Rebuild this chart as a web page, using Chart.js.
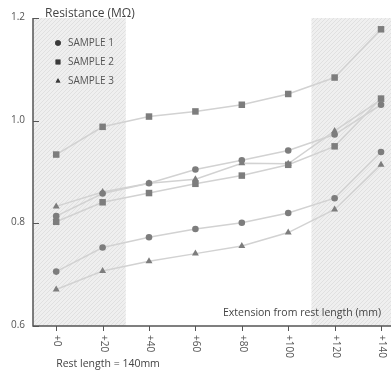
<!DOCTYPE html>
<html>
<head>
<meta charset="utf-8">
<script src="https://cdn.jsdelivr.net/npm/chart.js@4"></script>
<style>
  html, body { margin: 0; padding: 0; background: #fff; }
  #wrap { width: 391px; height: 375px; }
</style>
</head>
<body>
<div id="wrap"><canvas id="resistanceChart" width="391" height="375"></canvas></div>
<script>
var extensions = [0, 20, 40, 60, 80, 100, 120, 140];
var tickLabels = ['+0', '+20', '+40', '+60', '+80', '+100', '+120', '+140'];
var yTicks = [0.6, 0.8, 1.0, 1.2];

// two runs per sample
var sample1a = [0.814, 0.858, 0.878, 0.905, 0.923, 0.942, 0.973, 1.031];
var sample1b = [0.706, 0.753, 0.773, 0.789, 0.801, 0.820, 0.849, 0.939];
var sample2a = [0.934, 0.988, 1.008, 1.018, 1.031, 1.052, 1.084, 1.178];
var sample2b = [0.803, 0.841, 0.859, 0.877, 0.893, 0.914, 0.950, 1.043];
var sample3a = [0.833, 0.861, 0.878, 0.886, 0.917, 0.916, 0.980, 1.041];
var sample3b = [0.671, 0.707, 0.726, 0.741, 0.756, 0.782, 0.827, 0.914];

var legendNames = ['SAMPLE 1', 'SAMPLE 2', 'SAMPLE 3'];
var shadedRanges = [[-10, 30], [110, 145]];

var FONT = '"Open Sans", "Noto Sans", sans-serif';

function toPoints(values) {
    return values.map(function (v, i) { return { x: extensions[i], y: v }; });
}

function makeSet(label, values, style, radius) {
    return {
        label: label,
        data: toPoints(values),
        borderColor: '#d2d2d2',
        borderWidth: 1.5,
        pointStyle: style,
        pointRadius: radius,
        pointBackgroundColor: '#7d7d7d',
        pointBorderColor: '#7d7d7d',
        pointBorderWidth: 0,
        tension: 0
    };
}

// hatch pattern for the shaded bands
function makeHatch() {
    var c = document.createElement('canvas');
    c.width = 4; c.height = 4;
    var g = c.getContext('2d');
    g.fillStyle = '#efefef';
    g.fillRect(0, 0, 4, 4);
    g.strokeStyle = '#e0e0e0';
    g.lineWidth = 1;
    g.beginPath();
    g.moveTo(0, 4); g.lineTo(4, 0);
    g.moveTo(-1, 1); g.lineTo(1, -1);
    g.moveTo(3, 5); g.lineTo(5, 3);
    g.stroke();
    return g.createPattern(c, 'repeat');
}

var bandsPlugin = {
    id: 'bands',
    beforeDatasetsDraw: function (chart) {
        var ctx = chart.ctx, a = chart.chartArea, x = chart.scales.x;
        ctx.save();
        ctx.fillStyle = makeHatch();
        shadedRanges.forEach(function (r) {
            var x0 = Math.max(a.left, x.getPixelForValue(r[0]));
            var x1 = Math.min(a.right, x.getPixelForValue(r[1]));
            ctx.fillRect(x0, a.top, x1 - x0, a.bottom - a.top);
        });
        ctx.restore();
    }
};

var axesPlugin = {
    id: 'axesText',
    afterDraw: function (chart) {
        var ctx = chart.ctx, a = chart.chartArea;
        var xs = chart.scales.x, ys = chart.scales.y;
        ctx.save();
        ctx.strokeStyle = '#555';
        ctx.lineWidth = 1.5;
        // axis lines
        ctx.beginPath();
        ctx.moveTo(a.left, a.top);
        ctx.lineTo(a.left, a.bottom);
        ctx.lineTo(a.right, a.bottom);
        ctx.stroke();

        ctx.lineWidth = 1;
        ctx.fillStyle = '#555';
        ctx.font = '10px ' + FONT;
        // y ticks, pointing inward
        ctx.textAlign = 'right';
        ctx.textBaseline = 'middle';
        yTicks.forEach(function (v) {
            var py = Math.round(ys.getPixelForValue(v)) + 0.5;
            ctx.beginPath();
            ctx.moveTo(a.left, py);
            ctx.lineTo(a.left + 6, py);
            ctx.stroke();
            ctx.fillText(v.toFixed(1), a.left - 8, py - 1);
        });
        // x ticks with labels reading downwards
        extensions.forEach(function (v, i) {
            var px = Math.round(xs.getPixelForValue(v)) + 0.5;
            ctx.beginPath();
            ctx.moveTo(px, a.bottom);
            ctx.lineTo(px, a.bottom + 5);
            ctx.stroke();
            ctx.save();
            ctx.translate(px, a.bottom + 9);
            ctx.rotate(Math.PI / 2);
            ctx.textAlign = 'left';
            ctx.textBaseline = 'middle';
            ctx.fillText(tickLabels[i], 0, 0);
            ctx.restore();
        });

        // titles
        ctx.fillStyle = '#444';
        ctx.font = '12px ' + FONT;
        ctx.textAlign = 'left';
        ctx.textBaseline = 'middle';
        ctx.fillText('Resistance (M\u03A9)', a.left + 12, 14);
        ctx.font = '10.5px ' + FONT;
        ctx.textAlign = 'right';
        ctx.fillText('Extension from rest length (mm)', xs.getPixelForValue(140), 313);
        ctx.textAlign = 'left';
        ctx.fillText('Rest length = 140mm', xs.getPixelForValue(0), 364);

        // legend inside the plot
        var styles = ['circle', 'rect', 'triangle'];
        ctx.font = '10px ' + FONT;
        legendNames.forEach(function (name, i) {
            var ly = 43 + i * 19;
            Chart.helpers.drawPoint(ctx, { pointStyle: styles[i], radius: styles[i] === 'rect' ? 3.4 : 2.8, borderWidth: 0 }, 58, ly);
            ctx.fillStyle = '#3a3a3a';
            ctx.fill();
            ctx.fillStyle = '#555';
            ctx.fillText(name, 68, ly);
        });
        ctx.restore();
    }
};

var ctx = document.getElementById('resistanceChart').getContext('2d');
new Chart(ctx, {
    type: 'line',
    data: {
        datasets: [
            makeSet('SAMPLE 1', sample1a, 'circle', 3.3),
            makeSet('SAMPLE 1', sample1b, 'circle', 3.3),
            makeSet('SAMPLE 2', sample2a, 'rect', 4.6),
            makeSet('SAMPLE 2', sample2b, 'rect', 4.6),
            makeSet('SAMPLE 3', sample3a, 'triangle', 4),
            makeSet('SAMPLE 3', sample3b, 'triangle', 4)
        ]
    },
    options: {
        responsive: false,
        animation: false,
        events: [],
        layout: { autoPadding: false, padding: { left: 33, top: 18, right: 0, bottom: 49 } },
        plugins: { legend: { display: false }, tooltip: { enabled: false } },
        scales: {
            x: { type: 'linear', display: false, min: -10, max: 144.3 },
            y: { display: false, min: 0.6, max: 1.2 }
        }
    },
    plugins: [bandsPlugin, axesPlugin]
});
</script>
</body>
</html>
